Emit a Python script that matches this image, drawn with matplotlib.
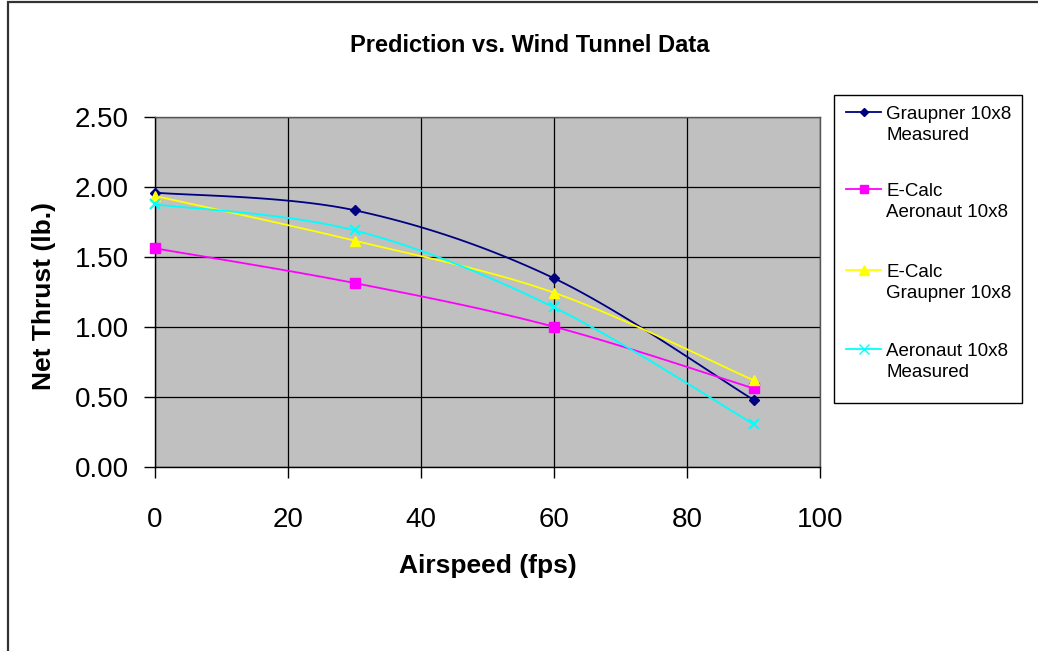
import numpy as np
import matplotlib
matplotlib.use("Agg")
import matplotlib.pyplot as plt
from matplotlib.lines import Line2D
from matplotlib.patches import Rectangle

plt.rcParams['font.family'] = ['Liberation Sans', 'DejaVu Sans']

airspeed = [0, 30, 60, 90]
graupner_measured = [1.96, 1.834, 1.348, 0.48]
ecalc_aeronaut = [1.562, 1.314, 1.002, 0.562]
ecalc_graupner = [1.936, 1.617, 1.245, 0.62]
aeronaut_measured = [1.876, 1.69, 1.14, 0.307]

series_labels = ["Graupner 10x8\nMeasured", "E-Calc\nAeronaut 10x8",
                 "E-Calc\nGraupner 10x8", "Aeronaut 10x8\nMeasured"]
series_colors = ["#000080", "#FF00FF", "#FFFF00", "#00FFFF"]
series_markers = ["D", "s", "^", "x"]
series_msize = [5.5, 6.5, 7.5, 7.5]
xticks = [0, 20, 40, 60, 80, 100]
yticks = [0.0, 0.5, 1.0, 1.5, 2.0, 2.5]


def smooth(xs, ys, n=40):
    # Excel-style smoothed line (Bezier through the points)
    P = np.column_stack([xs, ys]).astype(float)
    out = []
    m = len(P)
    for i in range(m - 1):
        p0 = P[i - 1] if i > 0 else P[i]
        p1 = P[i]
        p2 = P[i + 1]
        p3 = P[i + 2] if i + 2 < m else P[i + 1]
        c1 = p1 + (p2 - p0) / 6.0
        c2 = p2 - (p3 - p1) / 6.0
        t = np.linspace(0, 1, n)[:, None]
        seg = ((1 - t) ** 3) * p1 + 3 * ((1 - t) ** 2) * t * c1 + 3 * (1 - t) * t ** 2 * c2 + t ** 3 * p2
        out.append(seg if i == 0 else seg[1:])
    out = np.vstack(out)
    return out[:, 0], out[:, 1]


W, H = 1038, 651
fig = plt.figure(figsize=(W / 100, H / 100), dpi=100)
fig.patch.set_facecolor("white")

# chart area border (extends beyond right/bottom)
fig.add_artist(Rectangle((8 / W, -0.1), 1.2, 1 - 1.5 / H + 0.1, transform=fig.transFigure,
                         fill=False, edgecolor="#333333", lw=1.6))

ax = fig.add_axes([155 / W, 1 - 467 / H, (820 - 155) / W, (467 - 117) / H])
ax.set_facecolor("#C0C0C0")
ax.set_xlim(0, 100)
ax.set_ylim(0, 2.5)
ax.set_xticks(xticks)
ax.set_yticks(yticks)
ax.set_xticklabels([str(v) for v in xticks], fontsize=20)
ax.set_yticklabels([f"{v:.2f}" for v in yticks], fontsize=20)
ax.tick_params(direction="out", length=8, width=1, color="black", pad=11)
ax.tick_params(axis="x", pad=21)
ax.grid(True, color="black", lw=0.9)
ax.set_axisbelow(True)
for s in ax.spines.values():
    s.set_color("black")
    s.set_linewidth(1)
for s in ["top", "right"]:
    ax.spines[s].set_color("#555555")

all_series = [graupner_measured, ecalc_aeronaut, ecalc_graupner, aeronaut_measured]
for ys, c, mk, ms in zip(all_series, series_colors, series_markers, series_msize):
    sx, sy = smooth(airspeed, ys)
    ax.plot(sx, sy, color=c, lw=1.3, zorder=3, clip_on=False)
    ax.plot(airspeed, ys, linestyle="none", marker=mk, markersize=ms, color=c,
            markeredgecolor=c, markeredgewidth=1.5 if mk == "x" else 1, zorder=4, clip_on=False)

ax.set_xlabel("Airspeed (fps)", fontsize=19, fontweight="bold")
ax.set_ylabel("Net Thrust (lb.)", fontsize=19, fontweight="bold")
ax.xaxis.set_label_coords(0.5, (467 - 554) / 350)
ax.yaxis.set_label_coords((56 - 155) / 665, (467 - 296) / 350)

fig.text(530 / W, 1 - 45 / H, "Prediction vs. Wind Tunnel Data", ha="center", va="center",
         fontsize=17, fontweight="bold")

# legend
lx0, lx1, ly0, ly1 = 834, 1022, 95, 403
fig.add_artist(Rectangle((lx0 / W, 1 - ly1 / H), (lx1 - lx0) / W, (ly1 - ly0) / H,
                         transform=fig.transFigure, fill=False, edgecolor="black", lw=1))
row_y = [112, 189, 270, 349]
for lab, c, mk, ms, ry in zip(series_labels, series_colors, series_markers, series_msize, row_y):
    yy = 1 - ry / H
    fig.add_artist(Line2D([846 / W, 881 / W], [yy, yy], transform=fig.transFigure, color=c, lw=1.3))
    fig.add_artist(Line2D([863.5 / W], [yy], transform=fig.transFigure, color=c, marker=mk,
                          markersize=ms - 1, markeredgecolor=c))
    fig.text(886 / W, yy + 6 / H, lab, ha="left", va="top", fontsize=13.5, linespacing=1.3)

fig.savefig("out.png", dpi=100, facecolor="white")
